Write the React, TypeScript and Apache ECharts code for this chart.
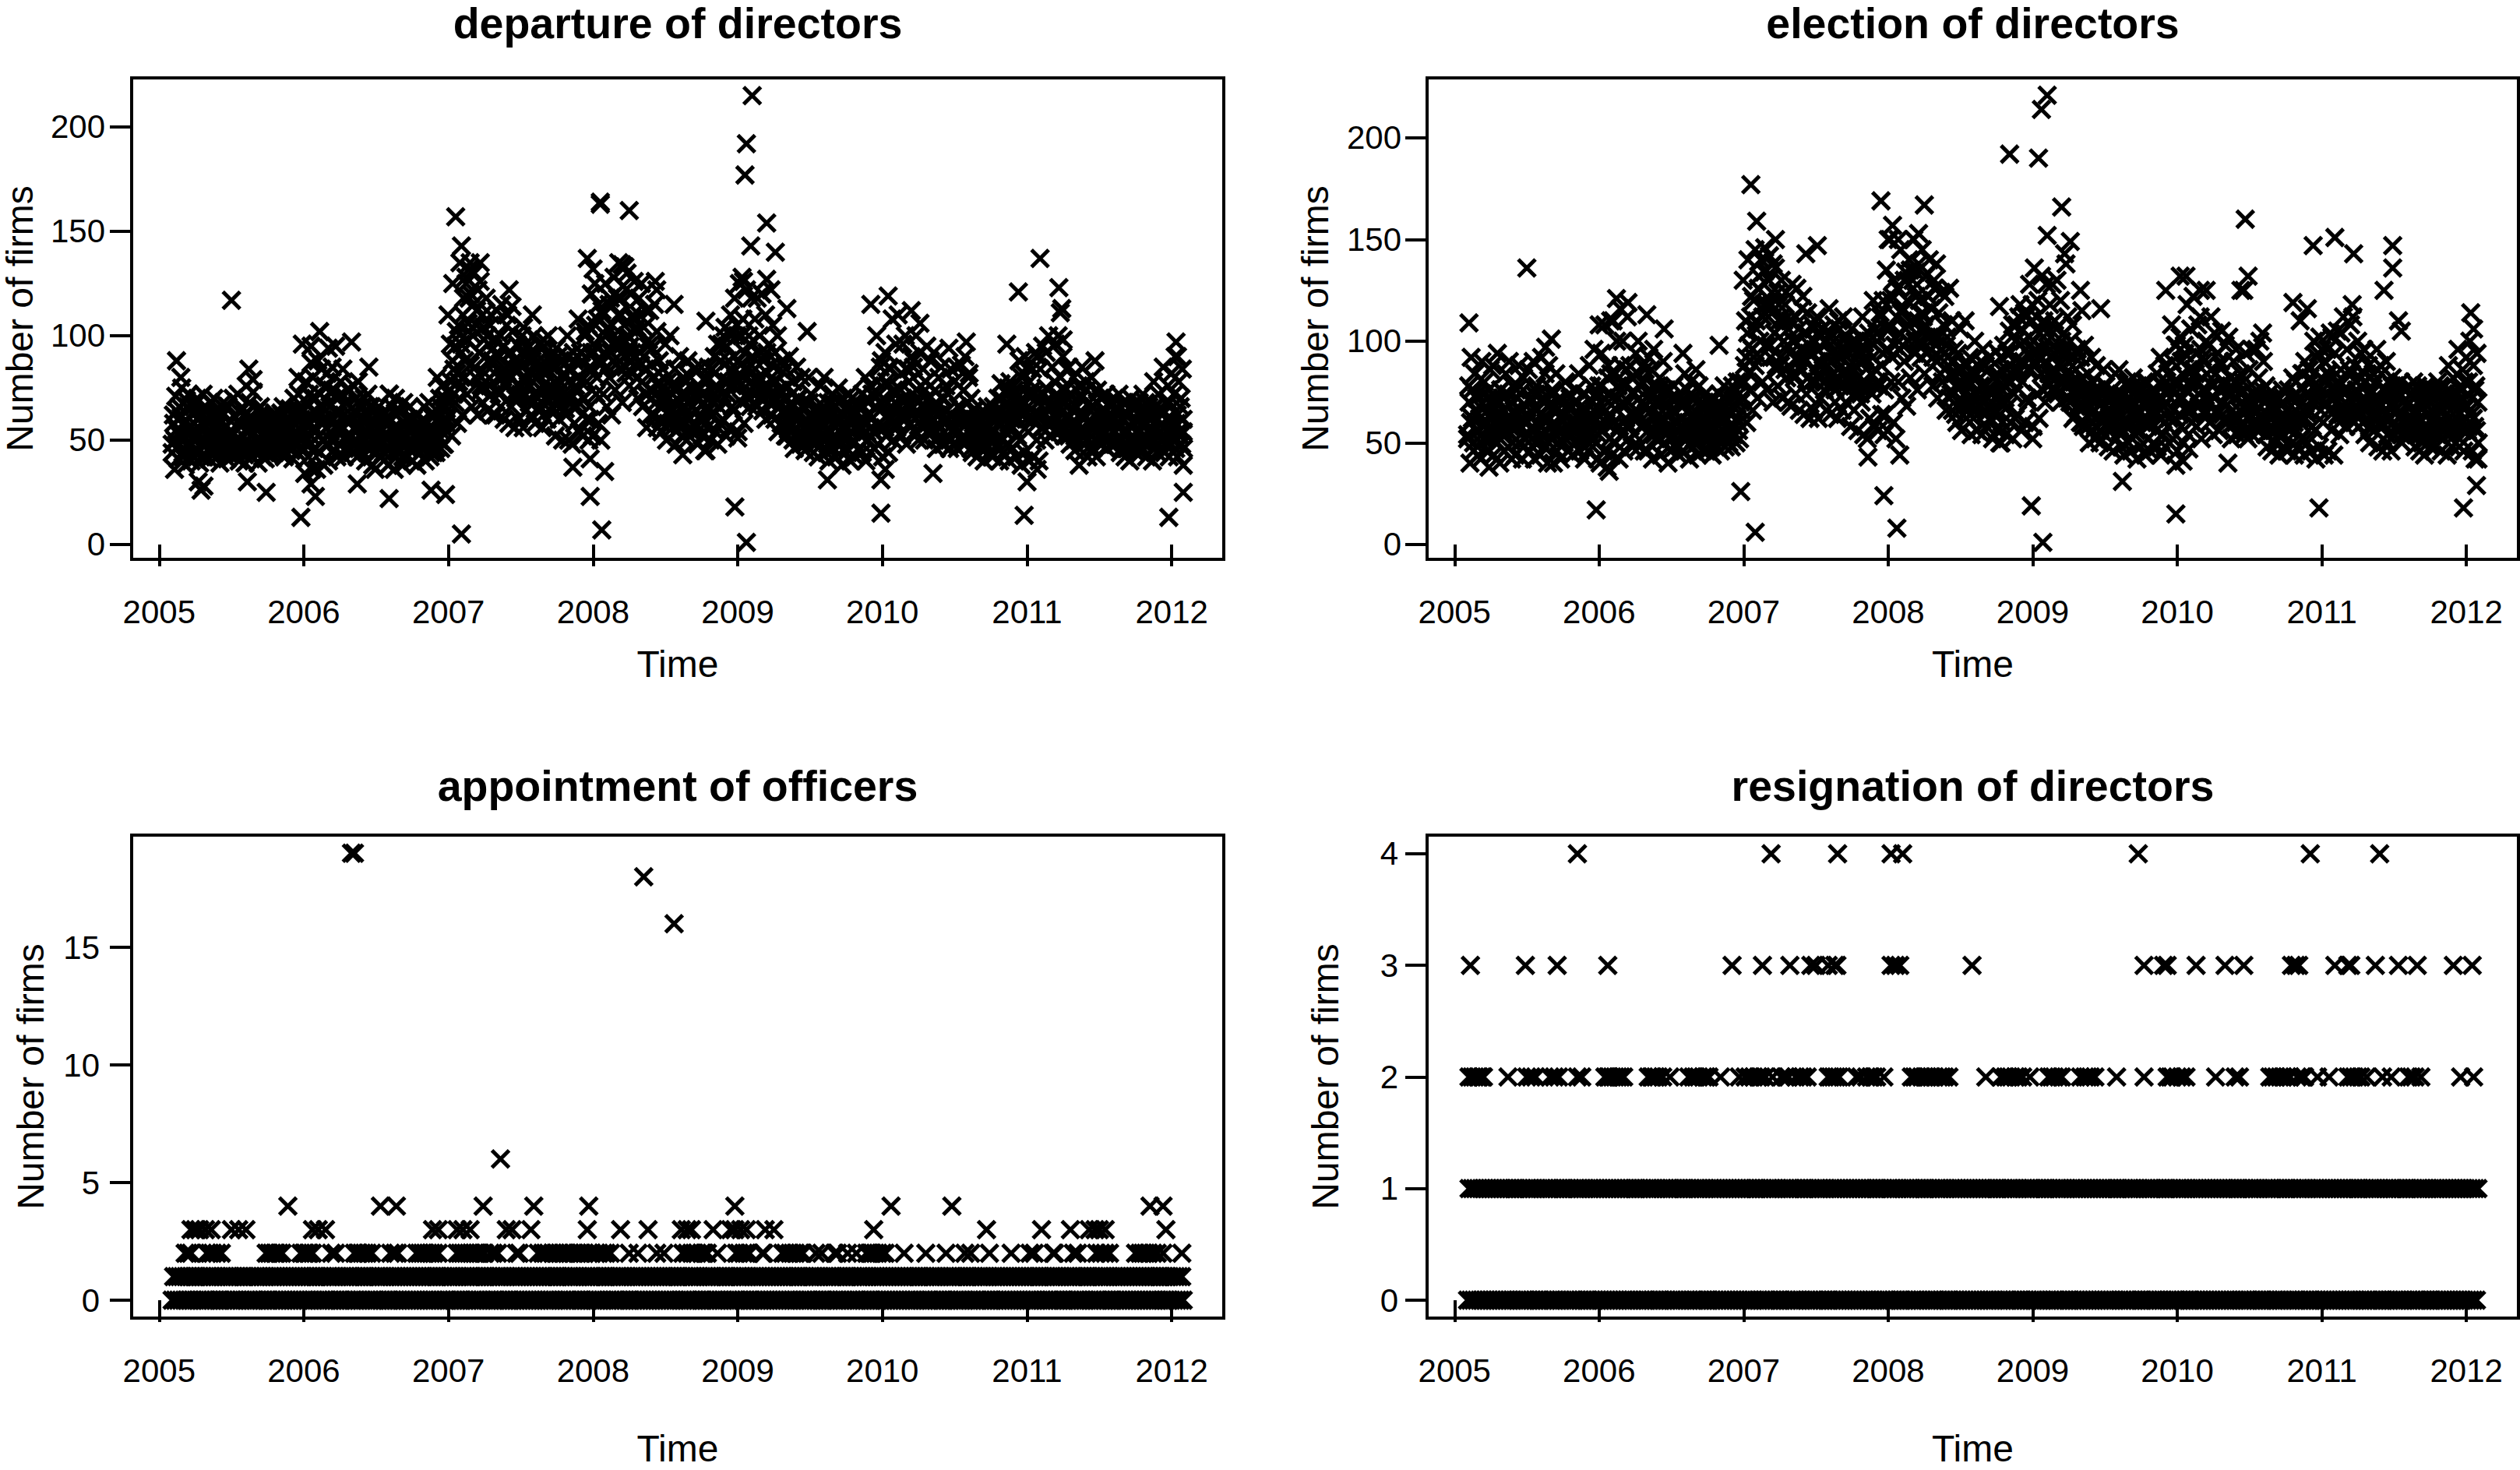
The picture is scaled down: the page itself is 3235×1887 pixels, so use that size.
import React, { useEffect, useRef } from "react";
import * as echarts from "echarts";

const FONT = "Liberation Sans";
const titles = ["departure of directors", "election of directors", "appointment of officers", "resignation of directors"];
const yearTicks = [2005, 2006, 2007, 2008, 2009, 2010, 2011, 2012];
const departureTicks = [0, 50, 100, 150, 200];
const electionTicks = [0, 50, 100, 150, 200];
const officerTicks = [0, 5, 10, 15];
const resignationTicks = [0, 1, 2, 3, 4];
const seriesStart = 2005.09;
const seriesSpan = 7.0;

// one block per month, Feb 2005 - Jan 2012
const departureValues = [
  48,62,36,71,55,41,66,52,75,44, 58,38,69,47,72,53,40,63,50,67,
  44,70,56,39,61,49,72,42,65,53, 60,41,68,52,45,70,48,63,57,43,
  39,64,50,68,46,57,41,66,54,48, 52,70,43,61,48,72,40,58,65,46,
  62,39,76,50,44,68,55,42,73,59, 47,64,39,58,66,45,52,61,41,55,
  50,43,60,56,47,62,44,53,58,49, 44,63,52,66,42,58,48,61,54,46,
  56,41,70,48,64,44,72,52,60,46, 64,34,78,50,42,72,58,36,80,46,
  70,36,88,52,44,84,60,38,76,48, 82,40,66,50,85,45,74,56,42,62,
  48,78,56,84,42,68,52,74,46,60, 62,44,76,50,70,42,78,56,48,66,
  50,70,40,62,72,46,56,66,38,54, 36,58,48,66,42,54,62,44,52,60,
  60,38,72,46,66,54,36,70,50,44, 44,64,52,38,68,48,60,42,56,66,
  50,40,60,46,56,38,52,58,44,48, 46,66,40,58,50,68,42,54,62,44,
  62,44,80,52,70,46,76,58,48,66, 60,110,74,96,52,125,84,68,102,58,
  78,135,96,62,118,88,128,72,106,132, 120,66,100,130,80,112,62,92,126,74,
  68,104,82,118,64,96,76,110,88,62, 98,62,112,74,90,66,115,80,60,84,
  76,110,58,92,66,102,84,56,72,96, 60,88,72,100,56,80,64,94,76,68,
  90,62,78,100,58,84,70,96,64,74, 56,98,70,84,60,100,76,64,90,72,
  84,52,72,90,60,78,66,50,86,70, 62,100,50,84,70,48,92,58,76,66,
  108,54,78,92,52,70,102,60,84,50, 60,120,52,96,125,72,108,58,88,50,
  112,72,92,125,66,104,80,118,62,96, 128,74,98,118,135,84,110,68,124,90,
  82,130,100,76,120,92,110,126,86,104, 70,118,92,125,66,104,84,112,72,98,
  112,62,94,80,115,68,102,76,88,60, 54,84,70,96,50,78,64,100,58,72,
  62,84,48,76,58,90,68,52,80,66, 72,50,88,60,80,54,66,84,58,70,
  48,74,60,85,52,68,45,78,56,64, 70,50,84,62,90,54,76,48,66,58,
  96,60,78,104,52,72,88,56,100,66, 64,118,78,100,54,125,86,68,108,58,
  84,122,70,100,66,118,90,72,108,76, 118,78,100,70,120,88,74,110,92,76,
  96,72,86,105,68,92,78,100,74,84, 58,88,70,62,84,76,55,90,66,72,
  78,46,62,85,52,70,48,80,58,66, 45,68,56,80,50,72,60,44,64,54,
  66,42,58,76,48,62,80,52,44,68, 40,62,54,72,46,66,42,58,75,50,
  60,38,70,50,44,66,56,72,40,62, 48,64,42,56,68,46,60,52,44,66,
  58,40,70,50,62,44,72,54,46,66, 100,48,72,56,88,42,66,92,52,76,
  44,84,60,108,50,72,96,56,110,66, 74,52,96,62,100,48,84,68,58,90,
  62,88,54,100,70,50,92,76,60,84, 50,78,95,58,70,88,54,66,92,74,
  46,66,80,56,85,48,70,60,76,52, 72,50,84,62,48,78,56,85,66,54,
  60,86,50,74,90,58,68,80,54,70, 44,58,65,50,42,62,54,46,60,48,
  40,56,48,62,44,52,60,42,54,50, 64,46,58,40,70,50,44,62,54,48,
  75,40,56,66,46,60,72,42,52,64, 50,38,68,82,44,60,85,54,40,72,
  74,42,60,92,50,68,40,84,56,95, 72,50,92,58,100,66,52,85,62,78,
  96,60,100,54,80,68,90,52,74,84, 62,85,48,72,56,80,45,66,58,76,
  50,72,85,44,62,78,54,42,68,58, 80,46,66,56,42,74,60,48,70,52,
  64,50,72,46,58,68,48,62,54,70, 48,66,56,72,44,60,50,68,42,62,
  46,62,40,70,52,58,66,44,54,48, 68,44,58,72,48,62,42,54,66,50,
  60,40,78,50,66,44,72,54,46,62, 85,44,68,54,76,42,60,82,50,72,
  90,58,42,78,52,70,84,46
];

const departureCore = [
  44,58,50,64,47,54,61,42, 52,45,66,49,57,43,62,55, 46,60,53,42,65,50,57,48, 58,44,51,63,47,55,42,60,
  49,62,45,56,52,66,43,59, 54,46,61,50,64,44,57,48, 43,55,63,47,52,60,45,58, 50,65,46,57,42,61,53,48,
  56,44,59,49,63,46,52,60, 47,62,54,43,58,50,65,45, 53,48,60,44,56,64,50,46, 58,68,47,62,52,70,56,64,
  62,52,72,58,66,50,75,60, 68,54,74,60,50,70,64,56, 56,72,62,50,68,58,74,52, 48,64,56,68,46,60,52,66,
  60,48,54,66,46,58,50,62, 44,56,62,48,52,60,46,58, 52,60,44,56,50,62,46,54, 48,42,58,52,60,46,54,50,
  56,46,62,50,58,44,54,60, 52,58,48,62,44,56,50,46, 60,50,66,54,48,70,58,62, 68,78,88,72,95,82,105,75,
  92,110,80,125,98,118,86,104, 115,85,105,122,92,76,110,98, 78,100,88,105,72,94,82,98, 90,72,100,82,95,76,105,86,
  80,92,72,88,70,84,95,76, 85,72,90,78,94,70,82,88, 72,92,80,88,66,84,76,95, 82,70,90,75,66,86,78,94,
  76,68,88,72,82,65,90,78, 70,84,66,88,74,80,68,92, 88,70,100,78,105,66,92,84, 92,105,80,115,86,98,110,84,
  100,85,115,92,105,88,120,96, 110,88,118,96,105,85,100,92, 95,82,108,90,102,80,110,86, 78,90,72,84,95,74,86,80,
  62,72,56,78,66,58,75,68, 70,58,64,76,56,68,60,74, 62,56,72,66,58,78,60,68, 56,66,74,58,64,70,55,62,
  72,60,80,66,85,62,74,68, 82,70,96,74,88,72,100,78, 95,78,102,84,76,90,80,105, 88,76,100,80,92,72,84,96,
  78,90,72,84,66,80,74,92, 64,76,60,82,68,72,62,78, 60,70,54,66,74,58,64,52, 52,64,58,68,50,62,56,70,
  62,50,66,56,48,60,54,68, 50,62,55,48,66,58,52,64, 56,50,64,48,60,54,68,52, 50,60,68,54,48,62,56,65,
  52,64,58,70,50,62,56,66, 66,56,72,60,80,54,68,76, 60,72,54,66,78,58,85,68, 70,56,78,62,85,66,58,74,
  68,58,75,62,82,70,60,84, 66,78,58,72,85,60,74,68, 62,72,56,66,78,60,70,54, 54,64,50,68,58,62,52,70,
  48,58,64,52,46,62,54,60, 56,46,60,50,65,52,48,62, 50,60,46,56,64,48,54,58, 58,48,62,52,46,66,56,50,
  54,66,50,62,70,52,58,64, 62,54,72,58,78,64,56,74, 70,60,88,66,80,62,90,72, 66,78,60,84,72,62,90,68,
  62,72,56,68,75,58,66,60, 58,66,54,72,60,56,70,64, 56,68,60,52,72,58,64,50, 66,54,62,70,56,60,52,74,
  50,58,66,46,62,54,68,52, 58,48,64,54,46,60,52,66, 48,60,54,64,50,58,46,68, 54,46,62,50,66,56,48,60,
  60,48,54,64,46,58,68,50, 50,62,56,46,66,52,60,48, 46,58,64,52,60,48,68,54, 58,50,46,62,54,66,48,60
];

const departureOutliers = [
  [2005.12,88],[2005.15,80],[2005.27,30],[2005.29,26],[2005.31,28],[2005.5,117],[2005.61,30],[2005.62,84],[2005.65,79],[2005.74,25],
  [2005.96,80],[2005.98,13],[2005.99,96],[2006.05,95],[2006.05,29],[2006.05,87],[2006.08,23],[2006.11,102],[2006.17,94],[2006.22,95],[2006.33,97],[2006.37,29],[2006.45,85],[2006.59,22],[2006.59,72],[2006.88,26],[2006.98,24],
  [2007.05,157],[2007.09,143],[2007.09,5],[2007.15,135],[2007.22,135],[2007.42,122],[2007.44,114],[2007.52,104],[2007.58,110],[2007.86,37],[2007.96,137],[2007.98,41],[2007.98,23],[2008.0,132],[2008.05,163],[2008.05,164],[2008.06,7],[2008.08,35],[2008.2,134],[2008.22,133],[2008.25,160],[2008.37,56],[2008.43,126],[2008.44,122],[2008.56,115],[2008.62,43],[2008.78,107],[2008.78,45],
  [2008.95,110],[2008.98,18],[2009.0,51],[2009.03,128],[2009.04,126],[2009.06,192],[2009.06,1],[2009.05,177],[2009.09,143],[2009.1,215],[2009.2,154],[2009.2,127],[2009.23,122],[2009.26,140],[2009.34,113],[2009.48,102],[2009.62,31],[2009.92,115],[2009.99,15],[2009.99,31],[2010.04,119],[2010.02,36],[2010.2,112],[2010.26,106],[2010.35,34],[2010.46,94],[2010.58,97],[2010.6,82],[2010.82,77],[2010.86,96],[2010.94,121],[2010.98,14],[2011.0,30],[2011.09,137],[2011.07,36],[2011.22,123],[2011.23,111],[2011.24,113],[2011.25,98],[2011.36,38],[2011.47,88],[2011.98,13],[2012.03,97],[2012.04,90],[2012.08,25],[2012.08,38],[2012.08,54]
];

const electionValues = [
  52,78,40,92,62,46,84,56,74,44, 68,42,90,52,80,60,46,72,38,86,
  58,88,44,70,50,94,62,40,76,54, 72,46,84,56,48,90,60,42,78,66,
  44,76,58,88,50,66,42,82,60,52, 60,86,46,72,52,90,42,66,78,50,
  74,44,92,54,48,84,62,40,88,58, 52,76,40,68,84,46,58,72,42,62,
  64,50,80,58,46,74,54,68,44,60, 50,76,60,84,46,68,54,74,42,62,
  66,46,88,54,78,48,96,62,72,42, 78,40,94,56,46,108,66,38,88,52,
  84,44,110,60,50,100,72,42,116,54, 100,46,78,58,112,52,88,64,48,74,
  54,94,62,100,48,78,58,88,46,68, 72,46,92,54,86,42,96,62,52,78,
  58,82,44,70,90,50,64,76,40,56, 46,66,54,78,48,60,72,44,58,68,
  70,46,84,54,76,60,42,80,56,48, 52,72,60,44,78,54,68,46,62,74,
  60,46,70,52,64,44,58,66,48,54, 52,74,46,66,56,78,48,62,70,50,
  66,48,78,54,72,50,80,60,52,70, 72,130,88,110,60,140,98,76,122,66,
  92,145,110,72,132,100,140,80,118,146, 135,76,112,142,92,124,70,104,136,86,
  78,118,92,130,72,110,86,124,98,70, 110,68,128,84,100,74,126,90,66,96,
  86,122,64,104,74,114,94,62,80,108, 66,100,80,112,62,90,72,106,86,76,
  100,66,88,116,64,94,78,108,70,82, 62,110,78,96,66,112,84,70,102,80,
  94,58,80,100,66,88,74,56,96,78, 70,112,54,92,78,52,104,62,84,74,
  120,58,86,104,56,78,112,64,94,54, 64,135,56,108,150,80,122,60,98,52,
  126,80,104,145,72,116,90,134,68,108, 140,82,110,130,150,94,122,76,138,100,
  92,145,112,84,132,102,122,140,96,116, 78,130,102,138,72,114,92,124,80,108,
  122,66,102,88,126,74,110,84,96,64, 60,94,78,106,56,86,70,110,62,80,
  68,92,54,84,62,100,74,56,88,72, 78,54,96,64,88,58,72,92,62,76,
  52,82,66,95,56,74,50,86,60,70, 78,54,94,68,105,60,84,52,74,62,
  108,64,86,118,56,80,100,60,112,72, 70,128,86,110,58,136,96,74,120,62,
  92,132,76,110,70,128,100,78,118,82, 128,84,110,76,130,96,80,120,100,82,
  104,78,94,112,72,100,84,108,80,92, 64,96,76,68,92,82,58,98,72,78,
  84,50,68,92,56,76,52,88,62,72, 50,74,60,86,54,78,66,48,70,58,
  72,46,64,84,52,68,86,56,48,74, 44,68,58,80,50,72,46,64,82,54,
  66,42,78,56,48,72,62,80,44,68, 52,70,46,60,76,50,66,56,48,72,
  62,44,78,54,68,48,80,58,50,72, 108,52,80,62,98,46,72,102,58,84,
  50,94,66,118,54,80,106,60,122,72, 84,58,108,68,112,52,92,76,64,100,
  70,98,60,112,78,54,104,84,66,94, 56,88,105,64,78,98,60,74,102,82,
  52,74,90,62,96,54,78,66,84,58, 80,56,94,68,52,86,62,96,74,60,
  66,96,56,82,100,64,76,90,60,78, 48,64,72,56,46,68,60,50,66,54,
  44,62,54,70,48,58,66,46,60,56, 72,50,64,44,80,56,48,68,60,52,
  84,44,62,74,50,66,82,46,58,72, 56,42,76,94,48,66,96,60,44,80,
  84,46,66,104,56,76,44,94,62,105, 80,54,104,64,112,74,58,96,68,86,
  108,66,112,60,88,76,100,58,82,94, 68,96,54,80,62,88,50,74,64,84,
  56,80,96,48,68,88,60,46,76,64, 90,50,74,62,46,82,68,54,78,58,
  72,56,80,50,64,76,54,68,60,78, 54,74,62,80,48,66,56,76,46,68,
  50,70,44,78,58,64,74,48,60,54, 76,48,64,80,54,68,46,60,74,56,
  68,44,88,56,74,48,82,60,50,70, 96,48,76,60,86,46,68,92,56,80,
  100,64,46,88,58,78,94,50
];

const electionCore = [
  54,70,60,76,50,66,72,56, 62,50,74,58,68,52,76,64, 52,68,60,72,50,64,76,56, 66,54,62,74,58,70,50,64,
  58,72,50,66,62,76,52,68, 64,54,70,58,74,50,66,60, 52,64,72,56,60,68,50,74, 58,74,54,66,50,70,62,56,
  64,52,68,58,72,54,60,70, 56,70,62,52,66,58,74,54, 62,56,70,52,66,74,58,54, 66,78,56,72,60,82,64,74,
  72,60,84,66,78,58,88,70, 80,62,86,70,58,82,74,64, 66,84,72,58,80,68,86,60, 56,74,66,78,54,70,60,76,
  70,56,62,76,54,68,58,72, 52,66,72,56,60,70,54,68, 60,70,52,66,58,72,54,62, 54,50,68,60,70,54,62,58,
  66,54,72,58,68,52,62,70, 60,68,56,72,52,66,58,54, 68,58,76,62,56,80,66,72, 80,92,104,84,112,96,120,88,
  106,126,92,140,112,134,98,118, 130,98,118,138,104,88,124,110, 88,112,100,118,82,106,94,110, 100,82,112,92,106,86,116,96,
  90,104,82,98,80,94,106,86, 96,82,102,88,106,80,92,100, 82,104,90,100,76,94,86,106, 92,80,102,86,76,98,88,106,
  86,78,100,82,94,74,102,90, 80,96,76,100,84,92,78,106, 100,80,114,88,120,76,106,96, 106,120,92,130,98,112,126,96,
  114,98,130,106,120,100,135,110, 126,100,134,110,120,98,114,106, 108,94,122,102,116,92,126,98, 90,102,84,96,108,86,98,92,
  72,84,66,90,78,68,86,80, 80,68,74,88,66,78,70,86, 72,66,84,76,68,90,70,78, 66,76,86,68,74,82,64,72,
  84,70,92,76,98,72,86,80, 94,80,108,86,100,84,112,90, 106,90,114,96,86,102,92,118, 100,88,112,92,104,84,96,108,
  90,104,84,96,76,92,86,106, 74,88,70,94,80,84,72,90, 70,80,62,76,86,68,74,60, 60,74,68,78,58,72,64,80,
  72,58,76,64,56,70,62,78, 58,72,64,56,76,68,60,74, 64,58,74,56,70,62,78,60, 58,70,78,62,56,72,66,75,
  60,74,68,80,58,72,64,76, 76,64,84,70,92,62,78,88, 70,84,62,76,90,66,98,78, 80,64,90,72,98,76,66,86,
  78,66,86,72,94,80,70,96, 76,90,66,84,98,70,86,78, 72,84,64,76,90,70,80,62, 62,74,58,78,66,72,60,80,
  56,66,74,60,54,72,62,70, 64,54,70,58,76,60,56,72, 58,70,54,64,74,56,62,66, 66,56,72,60,54,76,64,58,
  62,76,58,72,82,60,66,74, 72,62,84,66,90,74,64,86, 80,70,100,76,92,72,102,82, 76,90,70,96,84,72,102,78,
  72,84,64,78,86,66,76,70, 66,76,62,84,70,64,80,74, 64,78,70,60,84,66,74,58, 76,62,72,80,64,70,60,84,
  58,66,76,54,72,62,78,60, 66,56,74,62,54,70,60,76, 56,70,62,74,58,66,54,78, 62,54,72,58,76,64,56,70,
  70,56,62,74,54,66,78,58, 58,72,64,54,76,60,70,56, 54,66,74,60,70,56,80,62, 68,58,54,72,62,76,56,70
];

const electionOutliers = [
  [2005.1,109],[2005.5,136],[2005.63,97],[2005.67,101],[2005.98,17],[2006.0,108],[2006.07,36],[2006.08,110],[2006.12,121],[2006.2,119],[2006.33,113],[2006.45,106],[2006.58,94],[2006.67,86],[2006.83,98],[2006.98,26],
  [2007.05,177],[2007.08,6],[2007.09,159],[2007.22,150],[2007.43,143],[2007.51,147],[2007.86,43],[2007.95,169],[2007.97,24],[2008.03,157],[2008.0,150],[2008.06,8],[2008.08,44],[2008.07,150],[2008.21,153],[2008.25,167],
  [2008.77,117],[2008.84,192],[2008.99,19],[2009.0,52],[2008.78,50],[2009.04,190],[2009.06,214],[2009.07,1],[2009.1,221],[2009.1,152],[2009.2,166],[2009.22,143],[2009.23,138],[2009.26,149],[2009.33,125],[2009.34,115],[2009.47,116],[2009.62,31],[2009.92,125],[2009.99,15],[2009.99,39],[2010.02,132],[2010.06,132],[2010.04,41],[2010.08,47],[2010.16,125],[2010.2,125],[2010.35,40],[2010.44,125],[2010.47,160],[2010.46,125],[2010.49,132],[2010.59,104],
  [2010.8,119],[2010.85,110],[2010.9,116],[2010.94,147],[2010.98,18],[2011.09,151],[2011.22,143],[2011.21,118],[2011.43,125],[2011.49,136],[2011.49,147],[2011.53,110],[2011.55,105],[2011.98,18],[2012.03,114],[2012.05,106],[2012.07,29],[2012.06,42],[2012.08,42]
];

// alternating daily counts of 0 and 1
const officerBand = [
  0,1,0,1,0,1,0,1,0,1,0,1,0,1,0,1, 1,0,1,0,1,0,1,0,1,0,1,0,1,0,1,0, 0,1,0,1,0,1,0,1,0,1,0,1,0,1,0,1, 1,0,1,0,1,0,1,0,1,0,1,0,1,0,1,0,
  0,1,0,1,0,1,0,1,0,1,0,1,0,1,0,1, 0,1,0,1,0,1,0,1,0,1,0,1,0,1,0,1, 1,0,1,0,1,0,1,0,1,0,1,0,1,0,1,0, 0,1,0,1,0,1,0,1,0,1,0,1,0,1,0,1,
  1,0,1,0,1,0,1,0,1,0,1,0,1,0,1,0, 0,1,0,1,0,1,0,1,0,1,0,1,0,1,0,1, 0,1,0,1,0,1,0,1,0,1,0,1,0,1,0,1, 1,0,1,0,1,0,1,0,1,0,1,0,1,0,1,0,
  0,1,0,1,0,1,0,1,0,1,0,1,0,1,0,1, 1,0,1,0,1,0,1,0,1,0,1,0,1,0,1,0, 0,1,0,1,0,1,0,1,0,1,0,1,0,1,0,1, 0,1,0,1,0,1,0,1,0,1,0,1,0,1,0,1,
  1,0,1,0,1,0,1,0,1,0,1,0,1,0,1,0, 0,1,0,1,0,1,0,1,0,1,0,1,0,1,0,1, 1,0,1,0,1,0,1,0,1,0,1,0,1,0,1,0, 0,1,0,1,0,1,0,1,0,1,0,1,0,1,0,1,
  0,1,0,1,0,1,0,1,0,1,0,1,0,1,0,1, 1,0,1,0,1,0,1,0,1,0,1,0,1,0,1,0, 0,1,0,1,0,1,0,1,0,1,0,1,0,1,0,1, 1,0,1,0,1,0,1,0,1,0,1,0,1,0,1,0,
  0,1,0,1,0,1,0,1,0,1,0,1,0,1,0,1, 0,1,0,1,0,1,0,1,0,1,0,1,0,1,0,1, 1,0,1,0,1,0,1,0,1,0,1,0,1,0,1,0, 0,1,0,1,0,1,0,1,0,1,0,1,0,1,0,1,
  1,0,1,0,1,0,1,0,1,0,1,0,1,0,1,0, 0,1,0,1,0,1,0,1,0,1,0,1,0,1,0,1, 0,1,0,1,0,1,0,1,0,1,0,1,0,1,0,1, 1,0,1,0,1,0,1,0,1,0,1,0,1,0,1,0,
  0,1,0,1,0,1,0,1,0,1,0,1,0,1,0,1, 1,0,1,0,1,0,1,0,1,0,1,0,1,0,1,0, 0,1,0,1,0,1,0,1,0,1,0,1,0,1,0,1, 0,1,0,1,0,1,0,1,0,1,0,1,0,1,0,1,
  1,0,1,0,1,0,1,0,1,0,1,0,1,0,1,0, 0,1,0,1,0,1,0,1,0,1,0,1,0,1,0,1, 1,0,1,0,1,0,1,0,1,0,1,0,1,0,1,0, 0,1,0,1,0,1,0,1,0,1,0,1,0,1,0,1,
  0,1,0,1,0,1,0,1,0,1,0,1,0,1,0,1, 1,0,1,0,1,0,1,0,1,0,1,0,1,0,1,0
];
const resignationBand = [
  0,1,0,1,0,1,0,1,0,1,0,1,0,1,0,1, 0,1,0,1,0,1,0,1,0,1,0,1,0,1,0,1, 1,0,1,0,1,0,1,0,1,0,1,0,1,0,1,0, 0,1,0,1,0,1,0,1,0,1,0,1,0,1,0,1,
  1,0,1,0,1,0,1,0,1,0,1,0,1,0,1,0, 0,1,0,1,0,1,0,1,0,1,0,1,0,1,0,1, 0,1,0,1,0,1,0,1,0,1,0,1,0,1,0,1, 1,0,1,0,1,0,1,0,1,0,1,0,1,0,1,0,
  0,1,0,1,0,1,0,1,0,1,0,1,0,1,0,1, 1,0,1,0,1,0,1,0,1,0,1,0,1,0,1,0, 0,1,0,1,0,1,0,1,0,1,0,1,0,1,0,1, 0,1,0,1,0,1,0,1,0,1,0,1,0,1,0,1,
  1,0,1,0,1,0,1,0,1,0,1,0,1,0,1,0, 0,1,0,1,0,1,0,1,0,1,0,1,0,1,0,1, 1,0,1,0,1,0,1,0,1,0,1,0,1,0,1,0, 0,1,0,1,0,1,0,1,0,1,0,1,0,1,0,1,
  0,1,0,1,0,1,0,1,0,1,0,1,0,1,0,1, 1,0,1,0,1,0,1,0,1,0,1,0,1,0,1,0, 0,1,0,1,0,1,0,1,0,1,0,1,0,1,0,1, 1,0,1,0,1,0,1,0,1,0,1,0,1,0,1,0,
  0,1,0,1,0,1,0,1,0,1,0,1,0,1,0,1, 0,1,0,1,0,1,0,1,0,1,0,1,0,1,0,1, 1,0,1,0,1,0,1,0,1,0,1,0,1,0,1,0, 0,1,0,1,0,1,0,1,0,1,0,1,0,1,0,1,
  1,0,1,0,1,0,1,0,1,0,1,0,1,0,1,0, 0,1,0,1,0,1,0,1,0,1,0,1,0,1,0,1, 0,1,0,1,0,1,0,1,0,1,0,1,0,1,0,1, 1,0,1,0,1,0,1,0,1,0,1,0,1,0,1,0,
  0,1,0,1,0,1,0,1,0,1,0,1,0,1,0,1, 1,0,1,0,1,0,1,0,1,0,1,0,1,0,1,0, 0,1,0,1,0,1,0,1,0,1,0,1,0,1,0,1, 0,1,0,1,0,1,0,1,0,1,0,1,0,1,0,1,
  1,0,1,0,1,0,1,0,1,0,1,0,1,0,1,0, 0,1,0,1,0,1,0,1,0,1,0,1,0,1,0,1, 1,0,1,0,1,0,1,0,1,0,1,0,1,0,1,0, 0,1,0,1,0,1,0,1,0,1,0,1,0,1,0,1,
  0,1,0,1,0,1,0,1,0,1,0,1,0,1,0,1, 1,0,1,0,1,0,1,0,1,0,1,0,1,0,1,0, 0,1,0,1,0,1,0,1,0,1,0,1,0,1,0,1, 1,0,1,0,1,0,1,0,1,0,1,0,1,0,1,0,
  0,1,0,1,0,1,0,1,0,1,0,1,0,1,0,1, 0,1,0,1,0,1,0,1,0,1,0,1,0,1,0,1
];

const officerHigh: [number, number][] = [[2006.33,19],[2006.35,19],[2008.35,18],[2008.56,16],[2007.36,6]];
const officer4 = [2005.89,2006.53,2006.64,2007.24,2007.59,2007.97,2008.98,2010.06,2010.48,2011.85,2011.94];
const officer3 = [2005.22,2005.25,2005.28,2005.32,2005.36,2005.5,2005.55,2005.6,2006.06,2006.1,2006.15,2006.89,2006.93,2007.06,2007.1,2007.15,2007.4,2007.44,2007.57,2007.96,2008.19,2008.38,2008.61,2008.65,2008.68,2008.83,2008.95,2008.98,2009.02,2009.06,2009.19,2009.25,2009.94,2010.72,2011.1,2011.3,2011.43,2011.47,2011.5,2011.54,2011.96];
const officer2 = [2005.18,2005.2,2005.22,2005.33,2005.35,2005.37,2005.4,2005.43,2005.74,2005.76,2005.78,2005.8,2005.81,2005.83,2005.85,2005.98,2006.0,2006.01,2006.03,2006.04,2006.06,2006.19,2006.22,2006.35,2006.37,2006.38,2006.4,2006.42,2006.44,2006.47,2006.6,2006.63,2006.65,2006.78,2006.8,2006.82,2006.84,2006.86,2006.88,2006.9,2006.93,2007.06,2007.08,2007.1,2007.12,2007.14,2007.16,2007.18,2007.2,2007.22,2007.25,2007.29,2007.31,2007.34,2007.47,2007.49,2007.62,2007.65,2007.67,2007.69,2007.72,2007.74,2007.77,2007.8,2007.82,2007.84,2007.86,2007.89,2007.91,2007.94,2007.97,2007.99,2008.02,2008.04,2008.07,2008.09,2008.12,2008.25,2008.31,2008.44,2008.49,2008.62,2008.65,2008.68,2008.7,2008.72,2008.75,2008.77,2008.79,2008.86,2008.99,2009.01,2009.04,2009.06,2009.08,2009.17,2009.18,2009.31,2009.33,2009.36,2009.38,2009.4,2009.43,2009.45,2009.54,2009.58,2009.67,2009.69,2009.76,2009.82,2009.89,2009.91,2009.93,2009.95,2009.97,2010.0,2010.02,2010.15,2010.3,2010.44,2010.57,2010.61,2010.74,2010.89,2011.02,2011.05,2011.18,2011.19,2011.32,2011.35,2011.48,2011.51,2011.54,2011.57,2011.75,2011.78,2011.8,2011.82,2011.84,2011.87,2011.9,2011.94,2012.07];

const resignation4 = [2005.85,2007.19,2007.65,2008.02,2008.1,2009.73,2010.92,2011.4];
const resignation3 = [2005.11,2005.49,2005.71,2006.06,2006.92,2007.13,2007.32,2007.465,2007.5,2007.585,2007.63,2007.645,2008.02,2008.05,2008.08,2008.58,2009.77,2009.905,2009.93,2010.13,2010.33,2010.46,2010.79,2010.82,2010.84,2011.09,2011.18,2011.2,2011.37,2011.53,2011.66,2011.91,2012.04];
const resignation2 = [2005.1,2005.12,2005.14,2005.16,2005.17,2005.19,2005.2,2005.37,2005.5,2005.53,2005.56,2005.66,2005.69,2005.72,2005.85,2005.88,2006.04,2006.06,2006.07,2006.09,2006.11,2006.13,2006.15,2006.17,2006.34,2006.36,2006.37,2006.39,2006.41,2006.44,2006.49,2006.62,2006.65,2006.67,2006.69,2006.72,2006.74,2006.76,2006.84,2006.97,2007.01,2007.04,2007.07,2007.1,2007.12,2007.15,2007.2,2007.26,2007.29,2007.31,2007.36,2007.39,2007.41,2007.44,2007.585,2007.6,2007.62,2007.64,2007.66,2007.78,2007.81,2007.85,2007.88,2007.9,2007.92,2007.97,2008.16,2008.18,2008.2,2008.23,2008.25,2008.27,2008.3,2008.32,2008.35,2008.37,2008.39,2008.42,2008.675,2008.78,2008.81,2008.83,2008.85,2008.88,2008.9,2008.93,2008.98,2009.11,2009.13,2009.15,2009.18,2009.2,2009.33,2009.36,2009.38,2009.4,2009.43,2009.58,2009.77,2009.93,2009.95,2009.965,2010.0,2010.03,2010.06,2010.265,2010.4,2010.43,2010.64,2010.66,2010.685,2010.71,2010.73,2010.76,2010.78,2010.83,2010.86,2010.88,2010.97,2011.05,2011.18,2011.2,2011.225,2011.25,2011.27,2011.31,2011.42,2011.48,2011.6,2011.62,2011.645,2011.685,2011.96,2012.05];

const X_SYMBOL = "path://M0 0L10 10M10 0L0 10";

function timed(values: number[]): [number, number][] {
  return values.map((v, i) => [seriesStart + (i * seriesSpan) / values.length, v] as [number, number]);
}
function level(dates: number[], v: number): [number, number][] {
  return dates.map((d) => [d, v] as [number, number]);
}

const panelData: [number, number][][] = [
  [...timed(departureValues), ...timed(departureCore), ...(departureOutliers as [number, number][])],
  [...timed(electionValues), ...timed(electionCore), ...(electionOutliers as [number, number][])],
  [...timed(officerBand), ...level(officer2, 2), ...level(officer3, 3), ...level(officer4, 4), ...officerHigh],
  [...timed(resignationBand), ...level(resignation2, 2), ...level(resignation3, 3), ...level(resignation4, 4)],
];

const grids = [
  { left: 169, top: 100, width: 1402, height: 618 },
  { left: 1832, top: 100, width: 1401, height: 618 },
  { left: 169, top: 1072, width: 1402, height: 620 },
  { left: 1832, top: 1072, width: 1401, height: 620 },
];
const yRanges = [
  { min: -7.1, max: 223.5, ticks: departureTicks, margin: 34, gap: 120 },
  { min: -7.3, max: 229.5, ticks: electionTicks, margin: 33, gap: 120 },
  { min: -0.76, max: 19.77, ticks: officerTicks, margin: 41, gap: 106 },
  { min: -0.16, max: 4.167, ticks: resignationTicks, margin: 37, gap: 107 },
];
const xNameGaps = [110, 110, 143, 143];
const titleTops = [6, 6, 985, 985];

export default function App() {
  const ref = useRef<HTMLDivElement>(null);
  useEffect(() => {
    const chart = echarts.init(ref.current!, undefined, { renderer: "svg" });
    const axisCommon = {
      axisLine: { show: false },
      splitLine: { show: false },
      axisTick: { show: true, length: 28, lineStyle: { color: "#000", width: 4 } },
    };
    chart.setOption({
      animation: false,
      backgroundColor: "#fff",
      title: titles.map((t, i) => ({
        text: t,
        left: grids[i].left + grids[i].width / 2,
        top: titleTops[i],
        padding: 0,
        textAlign: "center",
        textStyle: { fontFamily: FONT, fontWeight: "bold", fontSize: 55.5, lineHeight: 48, color: "#000" },
      })),
      grid: grids.map((g) => ({ ...g, show: true, borderColor: "#000", borderWidth: 4, backgroundColor: "transparent" })),
      xAxis: grids.map((_, i) => ({
        ...axisCommon,
        type: "value",
        gridIndex: i,
        min: 2004.81,
        max: 2012.36,
        name: "Time",
        nameLocation: "middle",
        nameGap: xNameGaps[i],
        nameTextStyle: { fontFamily: FONT, fontSize: 48, color: "#000" },
        axisTick: { ...axisCommon.axisTick, customValues: yearTicks },
        axisLabel: { customValues: yearTicks, margin: 46, fontFamily: FONT, fontSize: 42, color: "#000", formatter: (v: number) => String(v) },
      })),
      yAxis: grids.map((_, i) => ({
        ...axisCommon,
        type: "value",
        gridIndex: i,
        min: yRanges[i].min,
        max: yRanges[i].max,
        name: "Number of firms",
        nameLocation: "middle",
        nameGap: yRanges[i].gap,
        nameTextStyle: { fontFamily: FONT, fontSize: 48, color: "#000" },
        axisTick: { ...axisCommon.axisTick, customValues: yRanges[i].ticks },
        axisLabel: { customValues: yRanges[i].ticks, margin: yRanges[i].margin, fontFamily: FONT, fontSize: 42, color: "#000", formatter: (v: number) => String(v) },
      })),
      series: panelData.map((data, i) => ({
        type: "scatter",
        xAxisIndex: i,
        yAxisIndex: i,
        data,
        symbol: X_SYMBOL,
        symbolSize: 22,
        silent: true,
        clip: false,
        itemStyle: { color: "rgba(0,0,0,0)", borderColor: "#000", borderWidth: 5, opacity: 1 },
      })),
    });
    return () => chart.dispose();
  }, []);
  return <div ref={ref} style={{ position: "absolute", left: 0, top: 0, width: 3235, height: 1887 }} />;
}
